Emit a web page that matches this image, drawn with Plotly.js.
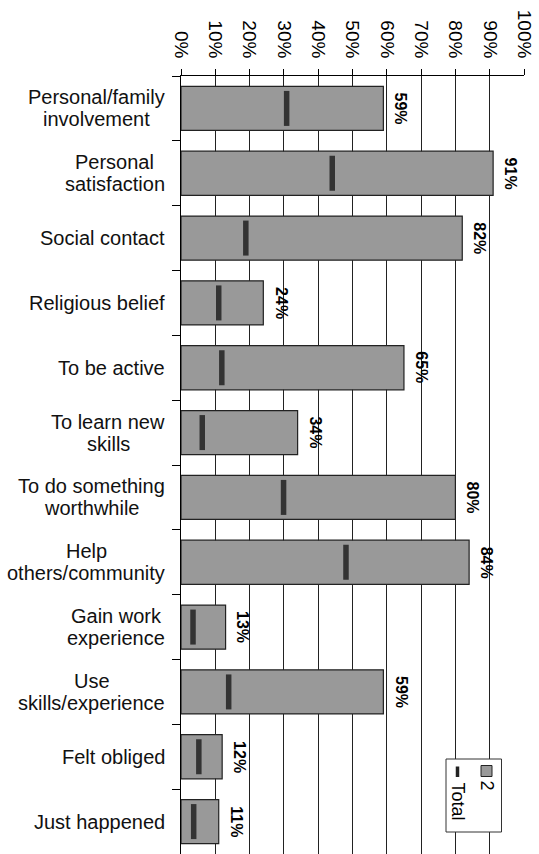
<!DOCTYPE html>
<html>
<head>
<meta charset="utf-8">
<script src="https://cdn.plot.ly/plotly-3.0.1.min.js"></script>
<style>html,body{margin:0;padding:0;background:#fff;}#chart{width:539px;height:854px;}</style>
</head>
<body>
<div id="chart"></div>
<script>
const categories = [
  "Personal/family<br>involvement",
  "Personal<br>satisfaction",
  "Social contact",
  "Religious belief",
  "To be active",
  "To learn new<br>skills",
  "To do something<br>worthwhile",
  "Help<br>others/community",
  "Gain work<br>experience",
  "Use<br>skills/experience",
  "Felt obliged",
  "Just happened"
];
const group2Values = [59, 91, 82, 24, 65, 34, 80, 84, 13, 59, 12, 11];
const totalValues = [30.8, 44.1, 18.9, 11.0, 11.9, 6.2, 29.9, 48.1, 3.5, 13.9, 5.2, 3.7];
const xTickValues = [0,10,20,30,40,50,60,70,80,90,100];
const seriesNames = ["2", "Total"];

const FONT = "Liberation Sans, Arial, sans-serif";
const LABEL_SIZE = 20;

const barTrace = {
  type: "bar",
  orientation: "h",
  name: seriesNames[0],
  x: group2Values,
  y: categories,
  marker: {color: "#999999", line: {color: "#222", width: 1.2}},
  hoverinfo: "x+y",
  showlegend: false
};
const totalTrace = {
  type: "scatter",
  mode: "markers",
  name: seriesNames[1],
  x: totalValues,
  y: categories,
  marker: {symbol: "line-ns", size: 25, color: "#333", line: {color: "#333", width: 5.5}},
  showlegend: false
};

// text measuring for centred multi-line category labels
const cv = document.createElement("canvas").getContext("2d");
cv.font = LABEL_SIZE + "px 'Liberation Sans'";

const annotations = [];
const LINE_GAP = 22;
categories.forEach((c, i) => {
  const lines = c.split("<br>");
  const blockW = Math.max(...lines.map(l => cv.measureText(l).width));
  lines.forEach((ln, k) => {
    const offset = (k - (lines.length - 1) / 2) * LINE_GAP;
    annotations.push({
      xref: "paper", yref: "y", x: 0, y: c, xanchor: "center", yanchor: "middle",
      xshift: -16 - blockW / 2, yshift: -offset, text: ln, showarrow: false,
      font: {family: FONT, size: LABEL_SIZE, color: "#111"}
    });
  });
  annotations.push({
    xref: "x", yref: "y", x: group2Values[i], y: c, xanchor: "left", yanchor: "middle",
    xshift: 7, text: "<b>" + group2Values[i] + "%</b>", showarrow: false, textangle: 90,
    font: {family: FONT, size: 16, color: "#000"}
  });
});

// rotated legend (Plotly legends cannot rotate)
function px2x(px){ return (px - 181) / 343; }
function py2y(py){ return 1 - (py - 76) / 778; }
annotations.push({
  xref: "paper", yref: "paper", x: px2x(486.5), y: py2y(778), xanchor: "center", yanchor: "top",
  text: seriesNames[0], showarrow: false, textangle: 90,
  font: {family: FONT, size: 18, color: "#000"}
});
annotations.push({
  xref: "paper", yref: "paper", x: px2x(457.5), y: py2y(780), xanchor: "center", yanchor: "top",
  text: seriesNames[1], showarrow: false, textangle: 90,
  font: {family: FONT, size: 18, color: "#000"}
});

const shapes = [
  {type: "rect", xref: "paper", yref: "paper", x0: px2x(446), x1: px2x(501.5), y0: py2y(759), y1: py2y(832),
   line: {color: "#333", width: 1}, fillcolor: "#fff", layer: "above"},
  {type: "rect", xref: "paper", yref: "paper", x0: px2x(481), x1: px2x(492), y0: py2y(765.5), y1: py2y(776.5),
   line: {color: "#222", width: 1}, fillcolor: "#999999", layer: "above"},
  {type: "line", xref: "paper", yref: "paper", x0: px2x(457.5), x1: px2x(457.5), y0: py2y(766.5), y1: py2y(777),
   line: {color: "#222", width: 3.5}, layer: "above"}
];

const layout = {
  width: 539, height: 854,
  margin: {l: 181, r: 15, t: 76, b: 0, pad: 0},
  paper_bgcolor: "#fff", plot_bgcolor: "#fff",
  font: {family: FONT, size: 19, color: "#000"},
  bargap: 0.32,
  showlegend: false,
  xaxis: {
    side: "top", range: [0, 100], tickvals: xTickValues, ticktext: xTickValues.map(v => v + "%"),
    tickangle: 90, ticks: "outside", ticklen: 6, tickcolor: "#000", automargin: false,
    ticklabelstandoff: 4,
    showline: true, linecolor: "#000", linewidth: 1,
    showgrid: true, gridcolor: "#222", gridwidth: 1, zeroline: false,
    tickfont: {family: FONT, size: 19, color: "#000"}
  },
  yaxis: {
    type: "category", range: [categories.length - 0.5, -0.5], showticklabels: false, automargin: false,
    ticks: "outside", tickson: "boundaries", ticklen: 8, tickcolor: "#000",
    showline: true, linecolor: "#000", linewidth: 1, showgrid: false, zeroline: false
  },
  annotations: annotations,
  shapes: shapes
};

Plotly.newPlot("chart", [barTrace, totalTrace], layout, {displayModeBar: false, staticPlot: true});
</script>
</body>
</html>
